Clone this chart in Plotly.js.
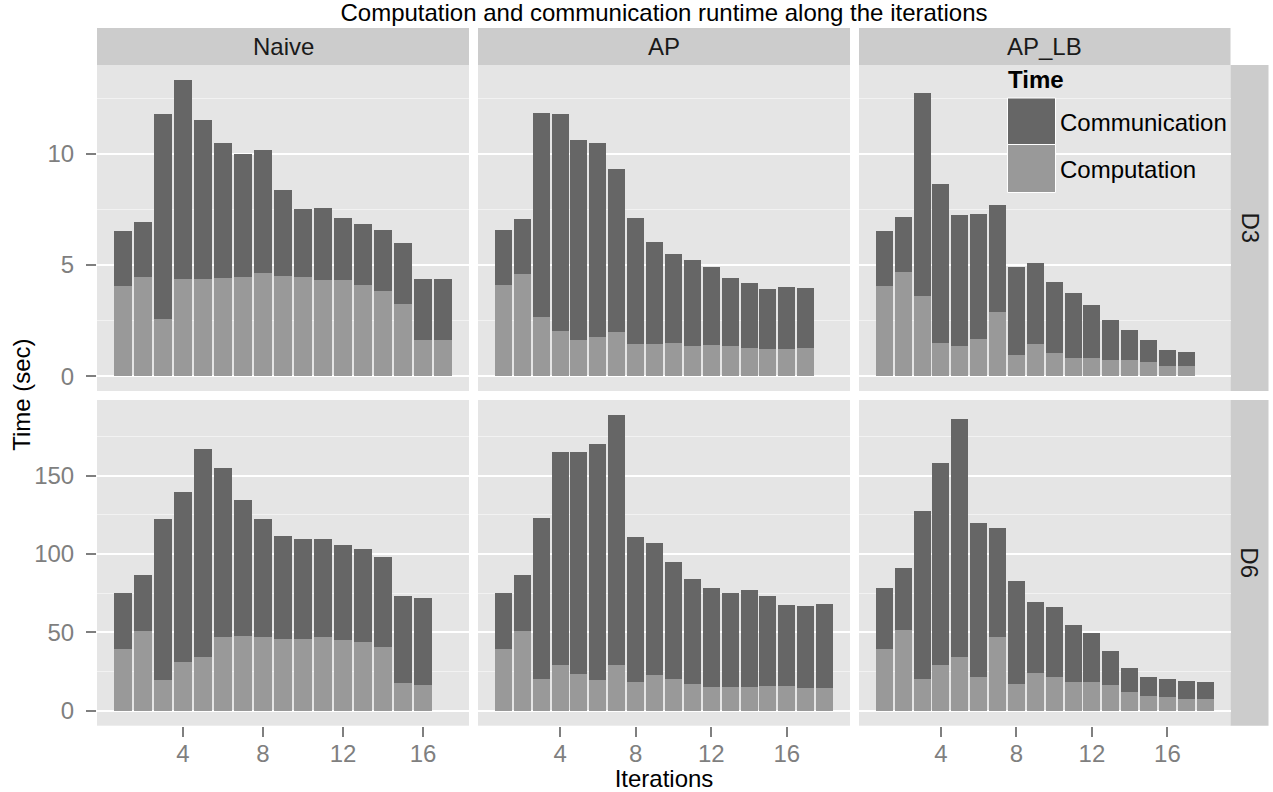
<!DOCTYPE html>
<html>
<head>
<meta charset="utf-8">
<script src="https://cdn.plot.ly/plotly-3.0.1.min.js"></script>
<style>html,body{margin:0;padding:0;background:#fff;}#chart{width:1273px;height:792px;}</style>
</head>
<body>
<div id="chart"></div>
<script>
// ---------- data ----------
const iterations = [1,2,3,4,5,6,7,8,9,10,11,12,13,14,15,16,17,18];
const methods = ["Naive", "AP", "AP_LB"];
const datasets = ["D3", "D6"];
const seriesNames = ["Communication", "Computation"];
const xTickVals = [4, 8, 12, 16];

// D3 (seconds)
const naiveD3Comp = [4.04,4.44,2.55,4.35,4.35,4.40,4.44,4.62,4.49,4.44,4.31,4.31,4.08,3.81,3.23,1.61,1.61];
const naiveD3Comm = [2.48,2.48,9.24,8.97,7.17,6.08,5.54,5.55,3.87,3.07,3.24,2.79,2.75,2.75,2.75,2.74,2.74];
const apD3Comp    = [4.08,4.58,2.64,2.01,1.61,1.74,1.97,1.43,1.43,1.47,1.34,1.38,1.34,1.25,1.20,1.20,1.25];
const apD3Comm    = [2.48,2.48,9.19,9.78,9.01,8.74,7.34,5.67,4.59,4.01,3.87,3.51,3.06,2.92,2.70,2.79,2.70];
const aplbD3Comp  = [4.04,4.67,3.59,1.47,1.34,1.65,2.87,0.93,1.43,1.02,0.80,0.80,0.71,0.71,0.62,0.48,0.48];
const aplbD3Comm  = [2.48,2.48,9.14,7.16,5.90,5.63,4.82,3.96,3.65,3.20,2.92,2.38,1.80,1.35,0.99,0.68,0.59];

// D6 (seconds)
const naiveD6Comp = [39.4,50.9,19.6,31.1,34.3,47.0,47.7,47.0,45.7,45.7,47.0,45.1,43.8,40.6,17.7,16.4];
const naiveD6Comm = [35.7,35.7,102.7,108.5,132.7,107.9,86.8,75.3,65.8,63.9,62.6,60.6,59.4,57.5,55.5,55.5];
const apD6Comp    = [39.4,50.9,20.2,29.1,23.4,19.6,29.1,18.3,22.8,20.2,17.0,15.1,15.1,15.1,15.7,15.7,14.5,14.5];
const apD6Comm    = [35.7,35.7,102.8,136.0,141.7,150.6,159.6,92.6,84.2,74.7,67.0,63.2,60.0,61.9,57.5,51.7,52.3,53.6];
const aplbD6Comp  = [39.4,51.5,20.2,29.1,34.3,21.5,47.0,17.0,24.0,21.5,18.3,18.3,16.4,11.9,9.4,8.7,7.4,7.4];
const aplbD6Comm  = [38.9,39.6,107.2,129.0,151.9,98.3,69.6,65.8,45.4,44.7,36.4,31.3,21.7,15.3,12.1,11.5,11.5,10.9];

// ---------- styling / geometry ----------
const W = 1273, H = 792;
const colComm = "#666666", colComp = "#999999";
const FONT = "Liberation Sans, Arial, Helvetica, sans-serif";
const FS = 24;
const px = v => v / W;
const py = v => 1 - v / H;

const colX = [[97, 469], [478, 850], [859, 1230.5]];
const rowY = [[65, 391], [400, 725.7]];
const stripH = 37;

const grid = [
  [[naiveD3Comp, naiveD3Comm], [apD3Comp, apD3Comm], [aplbD3Comp, aplbD3Comm]],
  [[naiveD6Comp, naiveD6Comm], [apD6Comp, apD6Comm], [aplbD6Comp, aplbD6Comm]]
];

function ggRangeX(n) { const lo = 0.55, hi = n + 0.45, e = (hi - lo) * 0.05; return [lo - e, hi + e]; }
function ggRangeY(m) { return [-0.05 * m, 1.05 * m]; }

const traces = [];
const layout = {
  width: W, height: H,
  margin: {l: 0, r: 0, t: 0, b: 0},
  paper_bgcolor: "#ffffff",
  plot_bgcolor: "#E5E5E5",
  barmode: "stack",
  bargap: 0.1,
  showlegend: false,
  font: {family: FONT, size: FS, color: "#000000"},
  title: {
    text: "Computation and communication runtime along the iterations",
    font: {family: FONT, size: FS, color: "#000000"},
    x: px(664), xanchor: "center", xref: "paper",
    y: py(12.5), yanchor: "middle", yref: "container"
  },
  shapes: [],
  annotations: []
};

const rowMax = grid.map(row => {
  let m = 0;
  row.forEach(([comp, comm]) => comp.forEach((v, i) => { m = Math.max(m, v + comm[i]); }));
  return m;
});
const colN = [0, 1, 2].map(c => Math.max(grid[0][c][0].length, grid[1][c][0].length));
const yDtick = [5, 50];

for (let r = 0; r < 2; r++) {
  for (let c = 0; c < 3; c++) {
    const k = r * 3 + c + 1;
    const xn = k === 1 ? "x" : "x" + k;
    const yn = k === 1 ? "y" : "y" + k;
    const [comp, comm] = grid[r][c];
    const xs = iterations.slice(0, comp.length);
    traces.push({type: "bar", name: "Computation", x: xs, y: comp, xaxis: xn, yaxis: yn,
      width: 0.9, marker: {color: colComp, line: {width: 0}}, hoverinfo: "x+y+name"});
    traces.push({type: "bar", name: "Communication", x: xs, y: comm, xaxis: xn, yaxis: yn,
      width: 0.9, marker: {color: colComm, line: {width: 0}}, hoverinfo: "x+y+name"});

    const xa = {
      domain: [px(colX[c][0]), px(colX[c][1])],
      range: ggRangeX(colN[c]),
      anchor: yn,
      showgrid: false, zeroline: false, showline: false,
      tickmode: "array", tickvals: xTickVals,
      fixedrange: true
    };
    if (r === 1) {
      Object.assign(xa, {ticks: "outside", ticklen: 10, tickwidth: 2, tickcolor: "#7F7F7F",
        showticklabels: true, ticklabelstandoff: -4,
        tickfont: {family: FONT, size: FS, color: "#7F7F7F"}});
    } else {
      Object.assign(xa, {ticks: "", showticklabels: false});
    }
    if (r === 1 && c === 1) {
      xa.title = {text: "Iterations", font: {family: FONT, size: FS, color: "#000000"}, standoff: 6};
    }
    const ya = {
      domain: [py(rowY[r][1]), py(rowY[r][0])],
      range: ggRangeY(rowMax[r]),
      anchor: xn,
      tick0: 0, dtick: yDtick[r],
      showgrid: true, gridcolor: "#FFFFFF", gridwidth: 2,
      minor: {dtick: yDtick[r] / 2, tick0: 0, showgrid: true, gridcolor: "#F2F2F2", gridwidth: 1, ticks: ""},
      zeroline: false, showline: false,
      fixedrange: true
    };
    if (c === 0) {
      Object.assign(ya, {ticks: "outside", ticklen: 10, tickwidth: 2, tickcolor: "#7F7F7F",
        showticklabels: true, ticklabelstandoff: 7,
        tickfont: {family: FONT, size: FS, color: "#7F7F7F"}});
    } else {
      Object.assign(ya, {ticks: "", showticklabels: false});
    }
    layout["xaxis" + (k === 1 ? "" : k)] = xa;
    layout["yaxis" + (k === 1 ? "" : k)] = ya;
  }
}

// strips (top)
methods.forEach((m, c) => {
  layout.shapes.push({type: "rect", xref: "paper", yref: "paper",
    x0: px(colX[c][0]), x1: px(colX[c][1]), y0: py(rowY[0][0] - stripH), y1: py(rowY[0][0]),
    fillcolor: "#CCCCCC", line: {width: 0}, layer: "below"});
  layout.annotations.push({text: m, xref: "paper", yref: "paper",
    x: px((colX[c][0] + colX[c][1]) / 2), y: py(rowY[0][0] - stripH / 2),
    xanchor: "center", yanchor: "middle", showarrow: false,
    font: {family: FONT, size: FS, color: "#1A1A1A"}});
});
// strips (right)
datasets.forEach((d, r) => {
  layout.shapes.push({type: "rect", xref: "paper", yref: "paper",
    x0: px(1230.5), x1: px(1230.5 + 38), y0: py(rowY[r][1]), y1: py(rowY[r][0]),
    fillcolor: "#CCCCCC", line: {width: 0}, layer: "below"});
  layout.annotations.push({text: d, xref: "paper", yref: "paper",
    x: px(1230.5 + 19), y: py((rowY[r][0] + rowY[r][1]) / 2),
    xanchor: "center", yanchor: "middle", showarrow: false, textangle: 90,
    font: {family: FONT, size: FS, color: "#1A1A1A"}});
});

// y axis title
layout.annotations.push({text: "Time (sec)", xref: "paper", yref: "paper",
  x: px(21.5), y: py((rowY[0][0] + rowY[1][1]) / 2), xanchor: "center", yanchor: "middle",
  showarrow: false, textangle: -90, font: {family: FONT, size: FS, color: "#000000"}});

// legend (drawn inside the AP_LB / D3 panel)
layout.annotations.push({text: "<b>Time</b>", xref: "paper", yref: "paper",
  x: px(1006), y: py(80), xanchor: "left", yanchor: "middle", showarrow: false,
  font: {family: FONT, size: FS, color: "#000000"}});
const keyColors = [colComm, colComp];
const keyTop = [98, 144.5], keyBot = [144.5, 192.5];
seriesNames.forEach((s, i) => {
  layout.shapes.push({type: "rect", xref: "paper", yref: "paper",
    x0: px(1007.5), x1: px(1055.5), y0: py(keyBot[i]), y1: py(keyTop[i]),
    fillcolor: keyColors[i], line: {color: "#FFFFFF", width: 1}, layer: "above"});
  layout.annotations.push({text: s, xref: "paper", yref: "paper",
    x: px(1058), y: py((keyTop[i] + keyBot[i]) / 2 + 1), xanchor: "left", yanchor: "middle",
    showarrow: false, font: {family: FONT, size: FS, color: "#000000"}});
});

Plotly.newPlot("chart", traces, layout, {displayModeBar: false, staticPlot: true});
</script>
</body>
</html>
